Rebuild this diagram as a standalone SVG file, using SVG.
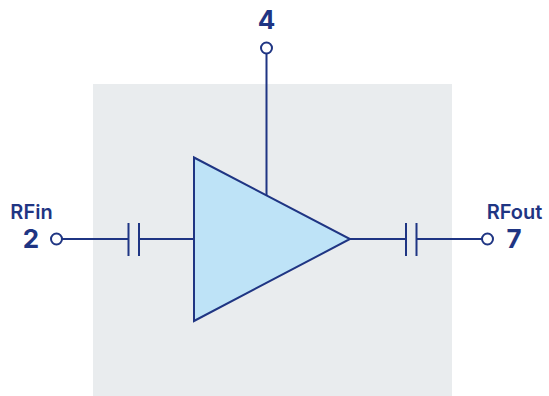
<svg xmlns="http://www.w3.org/2000/svg" width="549" height="396" viewBox="0 0 549 396">
<style>
.w{fill:none;stroke:#1f3583;stroke-width:2}
.p{fill:#fff;stroke:#1f3583;stroke-width:2}
.t{font-family:Inter,"Liberation Sans",sans-serif;font-weight:600;fill:#1f3583;text-anchor:middle}
.n{font-size:26px;font-weight:700}
.l{font-size:20px}
</style>
<rect width="549" height="396" fill="#fff"/>
<rect id="package" x="93" y="84" width="359" height="312" fill="#e9ecee"/>
<g id="connectors">
<path class="w" d="M62 239H129M139 239H194M350 239H406M416 239H482M266.500 53V195"/>
<path class="w" d="M128.500 223V256M139 223V256M406 223V256M416.500 223V256"/>
</g>
<g id="amplifier"><path d="M194 157.500L350 239L194 321Z" fill="#bee3f7" stroke="#1f3583" stroke-width="2"/></g>
<g id="pin2"><circle class="p" cx="56.500" cy="239" r="5.500"/><text class="t n" x="31" y="248">2</text><text class="t l" x="31.500" y="219">RFin</text></g>
<g id="pin7"><circle class="p" cx="487.500" cy="239" r="5.500"/><text class="t n" x="514" y="248">7</text><text class="t l" x="514.500" y="219">RFout</text></g>
<g id="pin4"><circle class="p" cx="266.500" cy="48" r="5.500"/><text class="t n" x="266.500" y="29">4</text></g>
</svg>
